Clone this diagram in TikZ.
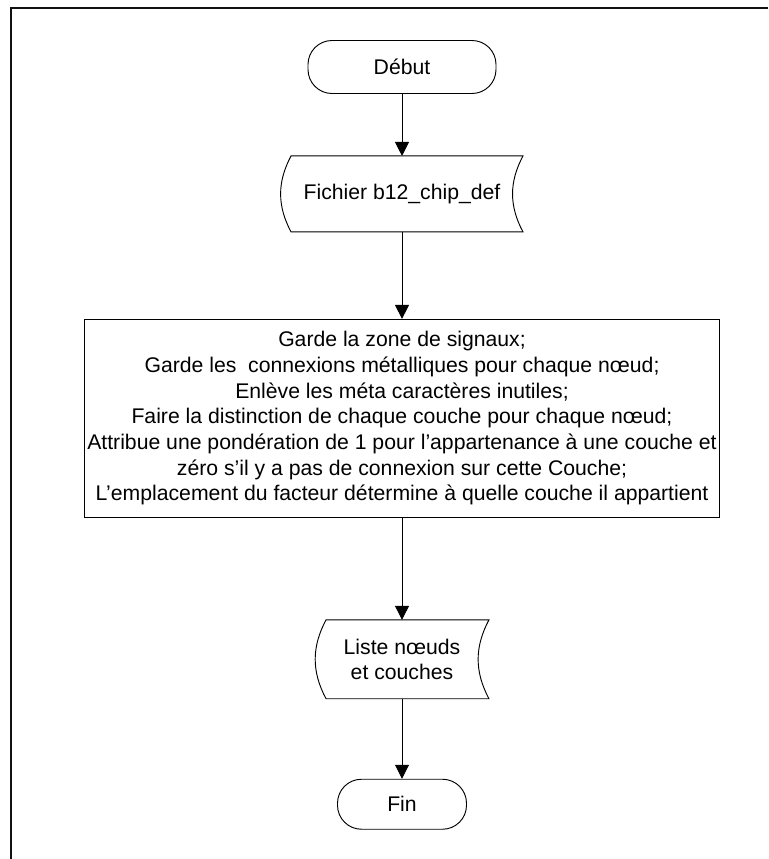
\documentclass[tikz,border=0pt]{standalone}
\usepackage{fontspec}
\setmainfont{Liberation Sans}
\usetikzlibrary{arrows.meta,positioning,calc}
\definecolor{Ink}{HTML}{000000}
\definecolor{Frame}{HTML}{111111}
\tikzset{
  flow/.style={draw=Ink,line width=0.7pt,align=center,text=Ink,inner sep=2pt,font=\fontsize{15.9}{19.25}\selectfont},
  flowterm/.style={flow,rounded corners=18pt},
  flowdata/.style={flow,draw=none},
  flowbox/.style={flow,minimum width=383.25pt,minimum height=148.5pt},
  arrow/.style={-{Triangle[length=10.5pt,width=10.5pt]},line width=0.7pt,draw=Ink},
  frameline/.style={line width=1.5pt,draw=Frame}
}
\begin{document}
\begin{tikzpicture}
\useasboundingbox (0,0) rectangle (576pt,-644.25pt);
\draw[frameline] (8.25pt,-644.25pt) |- (576pt,-6pt);
\node[flowterm,minimum width=141pt,minimum height=39.75pt] (debut) at (301.5pt,-50.25pt) {Début};
\node[flowdata,minimum width=180.75pt,minimum height=56.25pt,below=46.5pt of debut] (fichier) {Fichier b12\_chip\_def};
\node[flowbox,below=65.25pt of fichier] (traitement) {Garde la zone de signaux;\\
Garde les\ \ connexions métalliques pour chaque nœud;\\
Enlève les méta caractères inutiles;\\
Faire la distinction de chaque couche pour chaque nœud;\\
Attribue une pondération de 1 pour l’appartenance à une couche et\\
zéro s’il y a pas de connexion sur cette Couche;\\
L’emplacement du facteur détermine à quelle couche il appartient};
\node[flowdata,minimum width=129.75pt,minimum height=58.5pt,below=76.5pt of traitement] (liste) {Liste nœuds\\et couches};
\node[flowterm,minimum width=96.75pt,minimum height=37.5pt,below=60pt of liste] (fin) {Fin};
% contour des deux symboles de donnees
\foreach \n/\b in {fichier/7.5pt,liste/8.25pt}
  \draw[draw=Ink,line width=0.7pt] ($(\n.north west)+(\b,0)$) -- (\n.north east) to[bend right=28] (\n.south east) -- ($(\n.south west)+(\b,0)$) to[bend left=28] cycle;
\draw[arrow] (debut)--(fichier);\draw[arrow] (fichier)--(traitement);\draw[arrow] (traitement)--(liste);\draw[arrow] (liste)--(fin);
\end{tikzpicture}
\end{document}
